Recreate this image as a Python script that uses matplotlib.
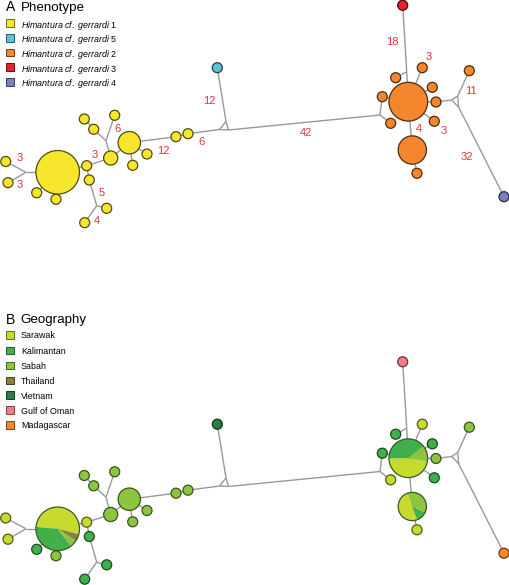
import numpy as np
import matplotlib.pyplot as plt
from matplotlib.patches import Circle, Wedge, Rectangle
from matplotlib.colors import to_rgb

plt.rcParams['font.family'] = ['Liberation Sans', 'DejaVu Sans']
plt.rcParams['mathtext.fontset'] = 'custom'
plt.rcParams['mathtext.it'] = 'Liberation Sans:italic'
plt.rcParams['mathtext.rm'] = 'Liberation Sans'

W, H = 510, 585

# haplotype network layout (pixel units of panel A), counts and phenotype
hap_x = [57.7, 5.7, 8.0, 36.7, 56.0, 86.7, 89.3, 106.7, 84.7, 110.7, 84.3, 93.7, 114.7, 129.3,
         147.0, 132.7, 176.0, 188.0, 217.3, 382.3, 390.7, 408.3, 402.7, 395.7, 422.3, 432.3,
         436.0, 434.3, 412.3, 417.0, 469.3, 504.0]
hap_y = [172.3, 161.5, 182.7, 192.8, 199.3, 165.7, 180.0, 208.3, 222.7, 158.0, 119.0, 129.3, 115.3, 142.7,
         154.0, 165.3, 136.7, 133.7, 67.7, 96.7, 123.3, 101.7, 5.3, 77.7, 67.7, 87.3,
         102.0, 121.3, 150.0, 173.3, 70.7, 196.7]
hap_n = [19, 1, 1, 1, 1, 1, 1, 1, 1, 2, 1, 1, 1, 5,
         1, 1, 1, 1, 1, 1, 1, 15, 1, 1, 1, 1,
         1, 1, 8, 1, 1, 1]
hap_pheno = [1] * 18 + [5] + [2, 2, 2, 3] + [2] * 8 + [4]

# median vectors
med_x = [26.0, 96.7, 106.0, 219.5, 226.0, 228.5, 380.0, 406.7, 451.7, 457.7, 458.7]
med_y = [172.3, 205.7, 140.7, 129.5, 121.5, 130.0, 115.0, 71.7, 100.0, 96.0, 107.3]

edges = [('h0', 'm0'), ('m0', 'h1'), ('m0', 'h2'), ('h0', 'h3'), ('h0', 'h4'), ('h0', 'h5'),
         ('h5', 'h6'), ('h6', 'm1'), ('m1', 'h7'), ('m1', 'h8'), ('h5', 'h9'), ('h9', 'm2'),
         ('m2', 'h11'), ('h11', 'h10'), ('m2', 'h12'), ('h9', 'h13'), ('h13', 'h14'),
         ('h13', 'h15'), ('h13', 'h16'), ('h16', 'h17'), ('h17', 'm3'), ('m3', 'm4'),
         ('m4', 'm5'), ('m3', 'm5'), ('m4', 'h18'), ('m5', 'm6'), ('m6', 'h19'), ('m6', 'h20'),
         ('h19', 'h21'), ('h21', 'm7'), ('m7', 'h22'), ('m7', 'h23'), ('h21', 'h24'),
         ('h21', 'h25'), ('h21', 'h26'), ('h21', 'h27'), ('h21', 'h28'), ('h28', 'h29'),
         ('h26', 'm8'), ('m8', 'm9'), ('m9', 'm10'), ('m8', 'm10'), ('m9', 'h30'), ('m10', 'h31')]

# mutation steps
mut_text = ['3', '3', '3', '5', '4', '6', '12', '6', '12', '42', '18', '3', '4', '3', '11', '32']
mut_x = [20, 20, 95, 101.7, 97.3, 117.3, 163.3, 202, 209.3, 305.7, 392.7, 429, 418.7, 443.3, 470.7, 466.7]
mut_y = [158.3, 185, 155, 192.7, 221, 129, 150.7, 142, 100.7, 132.7, 42.3, 57, 129, 130.7, 91, 157.3]

pheno_order = [1, 5, 2, 3, 4]
pheno_colors = {1: '#f6e62d', 5: '#5cc3d6', 2: '#f4862e', 3: '#e6212b', 4: '#7b7fbf'}

regions = ['Sarawak', 'Kalimantan', 'Sabah', 'Thailand', 'Vietnam', 'Gulf of Oman', 'Madagascar']
region_colors = ['#c8d92f', '#40b04a', '#8cc540', '#8a7f3c', '#2a7d48', '#f27d86', '#f4892c']

hap_region = ['mix', 'Sarawak', 'Sarawak', 'Kalimantan', 'Sabah', 'Sarawak', 'Kalimantan',
              'Kalimantan', 'Kalimantan', 'Sabah', 'Sabah', 'Sabah', 'Sabah', 'Sabah', 'Sabah',
              'Sabah', 'Sabah', 'Sabah', 'Vietnam', 'Kalimantan', 'Sarawak', 'mix',
              'Gulf of Oman', 'Kalimantan', 'Sarawak', 'Kalimantan', 'Sabah', 'Kalimantan',
              'mix', 'Sarawak', 'Sabah', 'Madagascar']
mixed_counts = {0: [10, 7, 1, 1, 0, 0, 0],
                21: [7, 6, 2, 0, 0, 0, 0],
                28: [4, 1, 3, 0, 0, 0, 0]}
pie_start = {0: (-14.5, False), 21: (349, True), 28: (110, False)}

B_SHIFT = 356.5


def darker(c, f=0.38):
    r, g, b = to_rgb(c)
    return (r * f, g * f, b * f)


def radius(n):
    return 5.0 * np.sqrt(n)


def pos(name, dy):
    i = int(name[1:])
    if name[0] == 'h':
        return hap_x[i], H - (hap_y[i] + dy)
    return med_x[i], H - (med_y[i] + dy)


fig = plt.figure(figsize=(W / 100, H / 100), dpi=100)
ax = fig.add_axes([0, 0, 1, 1])
ax.set_xlim(0, W)
ax.set_ylim(0, H)
ax.axis('off')


def draw_edges(dy):
    for a, b in edges:
        x1, y1 = pos(a, dy)
        x2, y2 = pos(b, dy)
        ax.plot([x1, x2], [y1, y2], color='#999999', lw=1.0, zorder=1, solid_capstyle='butt')


# panel A
draw_edges(0)
for i in range(len(hap_x)):
    x, y = pos('h%d' % i, 0)
    col = pheno_colors[hap_pheno[i]]
    ax.add_patch(Circle((x, y), radius(hap_n[i]), facecolor=col, edgecolor=darker(col, 0.33),
                        lw=0.9, zorder=2))
for t, x, y in zip(mut_text, mut_x, mut_y):
    ax.text(x, H - y, t, color='#e5323b', fontsize=8, ha='center', va='center', zorder=3)

ax.text(5.5, H - 11, 'A', fontsize=10, ha='left', va='baseline')
ax.text(20.5, H - 11, 'Phenotype', fontsize=9.6, ha='left', va='baseline')
leg_a = [23.0, 37.8, 52.5, 67.3, 82.0]
for k, p in enumerate(pheno_order):
    col = pheno_colors[p]
    ax.add_patch(Rectangle((6, H - leg_a[k] - 3.9), 7.8, 7.8, facecolor=col,
                           edgecolor=darker(col, 0.45), lw=0.7))
    ax.text(21, H - leg_a[k], r'$\mathit{Himantura\ cf.\ gerrardi}$ %d' % p, fontsize=6.4,
            ha='left', va='center_baseline')

# panel B
draw_edges(B_SHIFT)
for i in range(len(hap_x)):
    x, y = pos('h%d' % i, B_SHIFT)
    r = radius(hap_n[i])
    if hap_region[i] == 'mix':
        counts = mixed_counts[i]
        start, cw = pie_start[i]
        total = sum(counts)
        a = start
        for c, col in zip(counts, region_colors):
            if c == 0:
                continue
            span = 360.0 * c / total
            if cw:
                ax.add_patch(Wedge((x, y), r, a - span, a, facecolor=col, edgecolor='none', zorder=2))
                a -= span
            else:
                ax.add_patch(Wedge((x, y), r, a, a + span, facecolor=col, edgecolor='none', zorder=2))
                a += span
        ax.add_patch(Circle((x, y), r, fill=False, edgecolor='#3b5a22', lw=0.9, zorder=3))
    else:
        col = region_colors[regions.index(hap_region[i])]
        ax.add_patch(Circle((x, y), r, facecolor=col, edgecolor=darker(col, 0.42), lw=0.9, zorder=2))

ax.text(5.5, H - 323.5, 'B', fontsize=10, ha='left', va='baseline')
ax.text(20.5, H - 323.5, 'Geography', fontsize=9.6, ha='left', va='baseline')
leg_b = [335.0, 350.5, 365.5, 380.5, 395.3, 410.2, 425.0]
for k, reg in enumerate(regions):
    col = region_colors[k]
    ax.add_patch(Rectangle((6, H - leg_b[k] - 3.9), 7.8, 7.8, facecolor=col,
                           edgecolor=darker(col, 0.5), lw=0.7))
    ax.text(21, H - leg_b[k], reg, fontsize=6.4, ha='left', va='center_baseline')

fig.savefig('out.png', dpi=100)
